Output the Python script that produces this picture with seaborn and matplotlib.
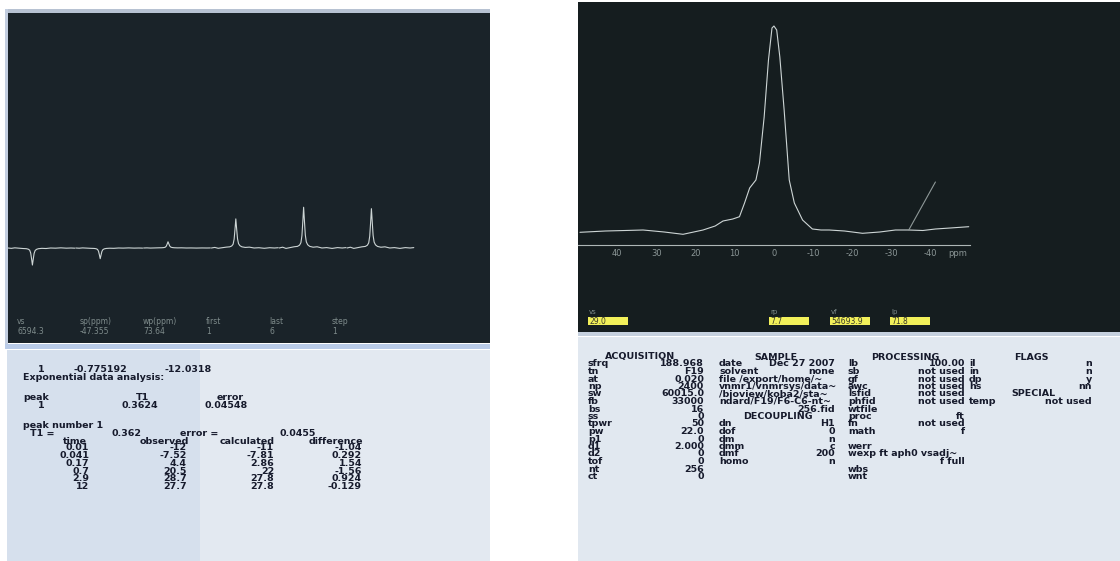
import matplotlib
matplotlib.use('Agg')
import pandas as pd
import matplotlib.pyplot as plt
from matplotlib.patches import Rectangle
import seaborn as sns

sns.set_theme(style='white')
plt.rcParams['font.family'] = ['DejaVu Sans']
plt.rcParams['axes.unicode_minus'] = False

W, H = 1120, 561
FS = 6.8  # table text size

# --- left screen: arrayed T1 spectra, one segment per delay ---
times = [0.01, 0.041, 0.17, 0.7, 2.9, 12]
observed = [-12, -7.52, 4.4, 20.5, 28.7, 27.7]
calculated = [-11, -7.81, 2.86, 22, 27.8, 27.8]
difference = [-1.04, 0.292, 1.54, -1.56, 0.924, -0.129]

# trace of one segment, relative to its peak height
peak_pos = [0.00, 0.05, 0.10, 0.16, 0.22, 0.27, 0.30, 0.32, 0.335, 0.35, 0.36, 0.37,
            0.385, 0.40, 0.42, 0.45, 0.50, 0.56, 0.63, 0.70, 0.78, 0.86, 0.93, 0.985]
peak_rel = [0.00, 0.02, -0.01, 0.01, 0.03, 0.04, 0.07, 0.13, 0.30, 0.70, 1.00, 0.72,
            0.32, 0.15, 0.08, 0.04, 0.02, 0.03, 0.00, 0.01, -0.01, 0.01, 0.00, 0.01]

left_labels = ['vs', 'sp(ppm)', 'wp(ppm)', 'first', 'last', 'step']
left_values = ['6594.3', '-47.355', '73.64', '1', '6', '1']

# --- right screen: 19F spectrum ---
ppm = [49.5, 43, 38, 33.4, 28, 23.2, 18.1, 15, 13, 10.5, 8.8, 7.5, 6.2, 4.6, 3.7, 2.5,
       1.4, 0.5, 0, -0.7, -1.5, -2.6, -3.9, -5.2, -7.3, -9.8, -12, -14.1, -18, -22.6,
       -27, -31, -34.4, -38, -41.2, -45, -49.7]
intensity = [-0.3, 1, 1.5, 2, 0, -2.3, 2, 6, 11, 13, 15.3, 29, 44, 52, 69, 115,
             172, 204, 206, 202, 175, 122, 52, 29, 12, 3, 2, 2, 1, -1.3,
             0, 2, 2, 1.5, 3, 4, 5.3]
cursor_ppm = [-34.4, -41.2]
cursor_int = [2, 50]
ppm_ticks = [40, 30, 20, 10, 0, -10, -20, -30, -40]

box_labels = ['vs', 'rp', 'vf', 'lp']
box_values = ['29.0', '7.7', '54693.9', '71.8']

acq = [('sfrq', '188.968'), ('tn', 'F19'), ('at', '0.020'), ('np', '2400'),
       ('sw', '60015.0'), ('fb', '33000'), ('bs', '16'), ('ss', '0'),
       ('tpwr', '50'), ('pw', '22.0'), ('p1', '0'), ('d1', '2.000'),
       ('d2', '0'), ('tof', '0'), ('nt', '256'), ('ct', '0')]
sample = [('date', 'Dec 27 2007'), ('solvent', 'none'), ('file /export/home/~', ''),
          ('vnmr1/vnmrsys/data~', ''), ('/bioview/koba2/sta~', ''),
          ('ndard/F19/F6-C6-nt~', ''), ('', '256.fid'), None,
          ('dn', 'H1'), ('dof', '0'), ('dm', 'n'), ('dmm', 'c'), ('dmf', '200'),
          ('homo', 'n'), ('', ''), ('', '')]
processing = [('lb', '100.00'), ('sb', 'not used'), ('gf', 'not used'),
              ('awc', 'not used'), ('lsfid', 'not used'), ('phfid', 'not used'),
              ('wtfile', ''), ('proc', 'ft'), ('fn', 'not used'), ('math', 'f'),
              ('', ''), ('werr', ''), ('wexp ft aph0 vsadj~', ''), ('', 'f full'),
              ('wbs', ''), ('wnt', '')]
flags = [('il', 'n'), ('in', 'n'), ('dp', 'y'), ('hs', 'nn'), None,
         ('temp', 'not used')]


def box(x0, y0, x1, y1):
    return [x0 / W, 1 - y1 / H, (x1 - x0) / W, (y1 - y0) / H]


def txt(x, y, s, ha='left', size=FS, color='#161a2c', weight='bold'):
    fig.text(x / W, 1 - y / H, s, ha=ha, va='center', fontsize=size,
             fontweight=weight, color=color)


def rect(x0, y0, x1, y1, color, z=0.5):
    fig.patches.append(Rectangle((x0 / W, 1 - y1 / H), (x1 - x0) / W, (y1 - y0) / H,
                                 transform=fig.transFigure, color=color, zorder=z,
                                 lw=0))


def blank(ax):
    ax.set_xticks([])
    ax.set_yticks([])
    ax.set_xlabel('')
    ax.set_ylabel('')
    for s in ax.spines.values():
        s.set_visible(False)


fig = plt.figure(figsize=(W / 100, H / 100), dpi=100, facecolor='white')

# panel backgrounds
rect(5, 9, 490, 13, '#b7c2d2')
rect(5, 9, 8, 345, '#c3cee0')
rect(5, 344, 490, 349, '#b9cbe8')
rect(7, 350, 490, 561, '#d6e0ed')
rect(200, 350, 490, 561, '#e3e9f1')
rect(578, 332, 1120, 336, '#c5d0de')
rect(578, 337, 1120, 561, '#e1e8f0')

# left spectra
axL = fig.add_axes(box(8, 12, 490, 343), facecolor='#1a2329')
rows = []
for i, amp in enumerate(observed):
    for p, r in zip(peak_pos, peak_rel):
        rows.append((i, i + p, amp * r))
dfL = pd.DataFrame(rows, columns=['seg', 'x', 'y'])
sns.lineplot(data=dfL, x='x', y='y', units='seg', estimator=None, sort=False,
             color='#cdd5d5', lw=0.8, ax=axL)
axL.set_xlim(0.0, 7.109)
axL.set_ylim(-66.9, 166.2)
blank(axL)

for k, (lab, val) in enumerate(zip(left_labels, left_values)):
    x = 17 + k * 63
    txt(x, 322, lab, size=5.5, color='#7f8c8c', weight='normal')
    txt(x, 332, val, size=5.5, color='#7f8c8c', weight='normal')

# right spectrum
axR = fig.add_axes(box(578, 2, 1120, 332), facecolor='#151d1f')
sns.lineplot(x=ppm, y=intensity, sort=False, estimator=None, color='#cdd5d5',
             lw=0.8, ax=axR)
sns.lineplot(x=cursor_ppm, y=cursor_int, sort=False, estimator=None,
             color='#8e9898', lw=0.8, ax=axR)
axR.set_xlim(49.6, -88.3)
axR.set_ylim(-100, 230)
axR.set_xlabel('')
axR.set_ylabel('')
axR.set_yticks([])
for name in ['top', 'left', 'right']:
    axR.spines[name].set_visible(False)
sp = axR.spines['bottom']
sp.set_position(('data', -13))
sp.set_bounds(-50, 50)
sp.set_color('#aeb6b6')
sp.set_linewidth(0.8)
axR.set_xticks(ppm_ticks)
axR.set_xticklabels([str(t) for t in ppm_ticks])
axR.set_xticks(list(range(-50, 51, 2)), minor=True)
axR.tick_params(axis='x', which='both', direction='in', colors='#aeb6b6',
                labelcolor='#8b9696', labelsize=6, pad=3, width=0.7)
axR.tick_params(axis='x', which='major', length=5)
axR.tick_params(axis='x', which='minor', length=2.5)
txt(958, 254, 'ppm', ha='center', size=6, color='#8b9696', weight='normal')

box_x = [588, 769, 830, 890]
for x, lab, val in zip(box_x, box_labels, box_values):
    rect(x, 317, x + 40, 325, '#f2f05a', z=2)
    txt(x + 1, 312, lab, size=5, color='#7f8c8c', weight='normal')
    txt(x + 1, 321, val, size=5.5, color='#3a3a2a', weight='normal')

# left text panel
txt(45, 369, '1', ha='right')
txt(127, 369, '-0.775192', ha='right')
txt(212, 369, '-12.0318', ha='right')
txt(23, 377, 'Exponential data analysis:')
txt(23, 398, 'peak')
txt(142, 398, 'T1', ha='center')
txt(230, 398, 'error', ha='center')
txt(45, 406, '1', ha='right')
txt(158, 406, '0.3624', ha='right')
txt(248, 406, '0.04548', ha='right')
txt(23, 426, 'peak number 1')
txt(30, 433, 'T1 =')
txt(142, 433, '0.362', ha='right')
txt(180, 433, 'error =')
txt(316, 433, '0.0455', ha='right')
txt(75, 441, 'time', ha='center')
txt(189, 441, 'observed', ha='right')
txt(275, 441, 'calculated', ha='right')
txt(363, 441, 'difference', ha='right')
for k in range(len(times)):
    y = 448 + k * 7.7
    txt(89, y, f'{times[k]:g}', ha='right')
    txt(187, y, f'{observed[k]:g}', ha='right')
    txt(274, y, f'{calculated[k]:g}', ha='right')
    txt(362, y, f'{difference[k]:g}', ha='right')

# right text panel
txt(640, 357, 'ACQUISITION', ha='center')
txt(776, 357, 'SAMPLE', ha='center')
txt(905, 357, 'PROCESSING', ha='center')
txt(1031, 357, 'FLAGS', ha='center')
cols = [(acq, 588, 704), (sample, 719, 835), (processing, 848, 965), (flags, 969, 1092)]
for entries, xl, xr in cols:
    for k, cell in enumerate(entries):
        y = 364 + k * 7.5
        if cell is None:
            continue
        txt(xl, y, cell[0])
        txt(xr, y, cell[1], ha='right')
txt(778, 364 + 7 * 7.5, 'DECOUPLING', ha='center')
txt(1033, 364 + 4 * 7.5, 'SPECIAL', ha='center')

fig.savefig('out.png', dpi=100, facecolor='white')
